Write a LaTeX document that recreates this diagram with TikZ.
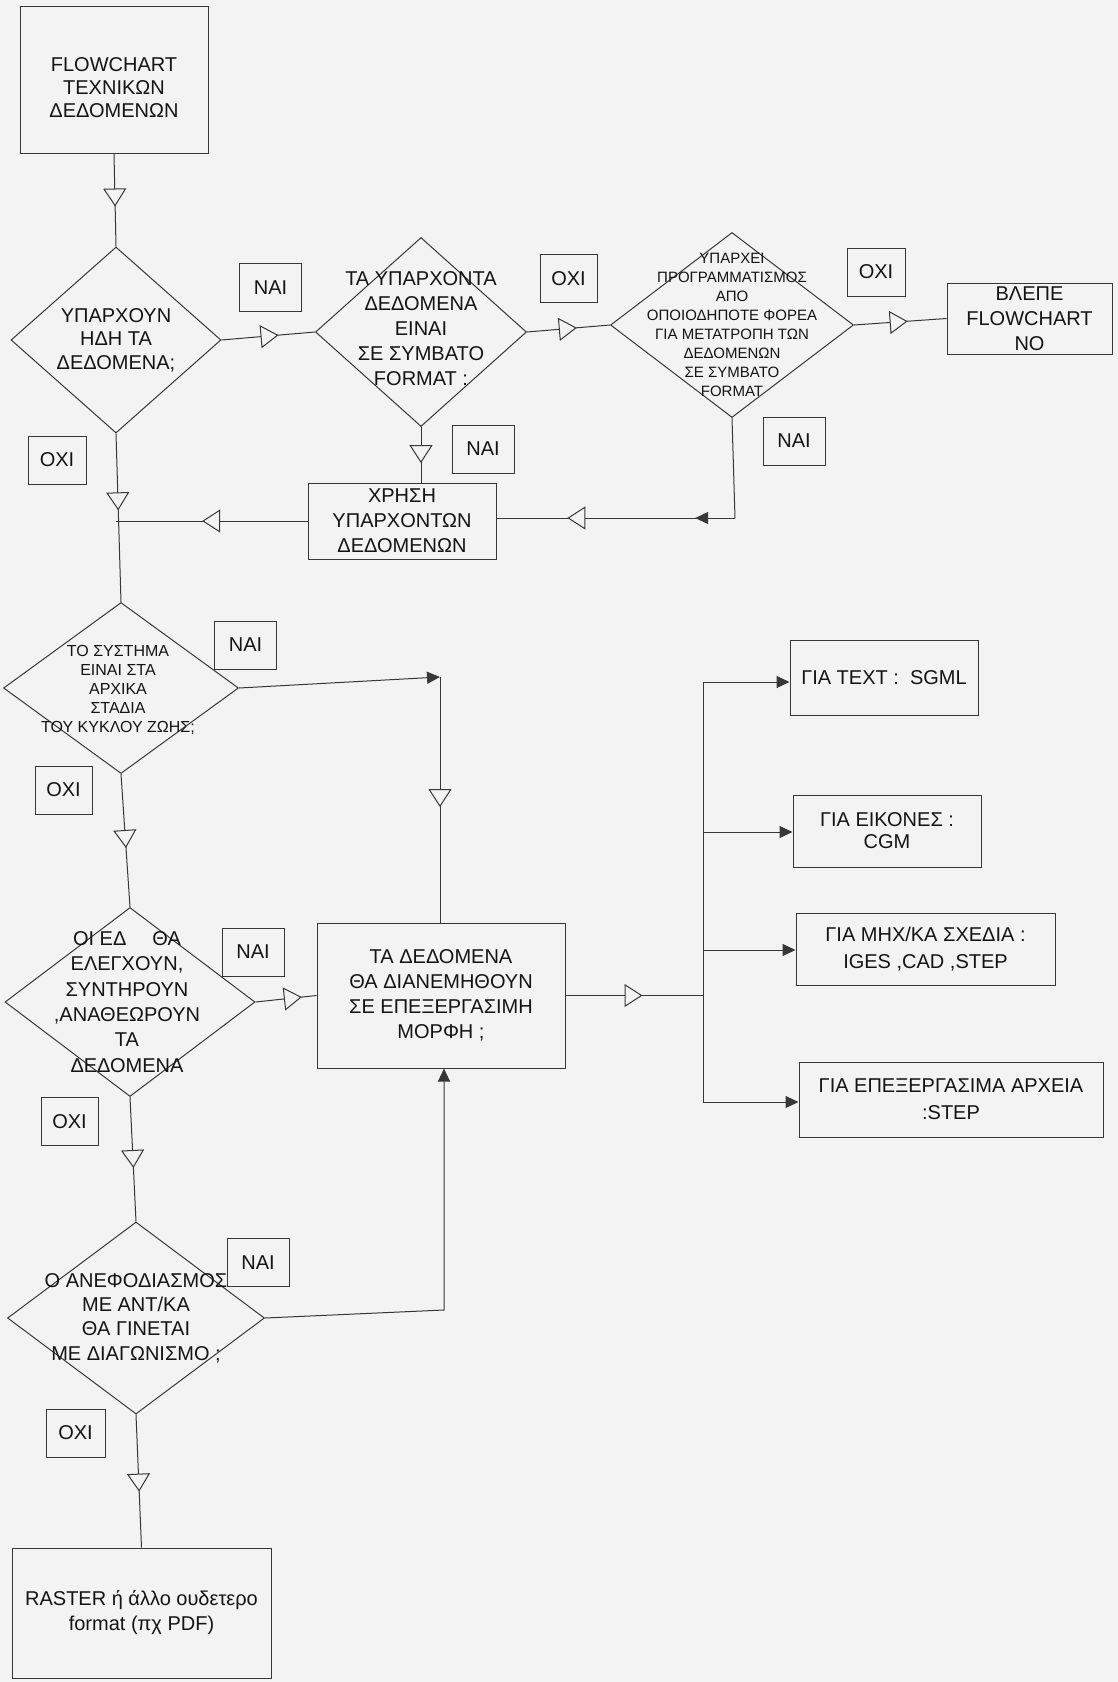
\documentclass[tikz,border=0pt]{standalone}
\usepackage{fontspec}
\setmainfont{Liberation Sans}
\usetikzlibrary{arrows.meta,shapes.geometric,decorations.markings}
\definecolor{bg}{RGB}{243,243,243}
\definecolor{lc}{RGB}{55,55,55}
\definecolor{tc}{RGB}{20,20,20}
\tikzset{
  OT/.tip={Triangle[length=9pt,width=11.5pt,fill=bg]},
  FT/.tip={Triangle[length=6.5pt,width=6pt]},
  ln/.style={draw=lc,line width=0.5pt},
  midtri/.style={postaction={decorate,decoration={markings,mark=at position #1 with {\arrow{OT}}}}},
  rbox/.style 2 args={draw=lc,line width=0.5pt,minimum width=#1,minimum height=#2,inner sep=0pt,align=center,text=tc,font=\fontsize{10}{12.5}\selectfont},
  yn/.style={draw=lc,line width=0.5pt,fill=bg,minimum width=31pt,minimum height=24pt,inner sep=0pt,text=tc,font=\fontsize{10}{12}\selectfont},
  dia/.style 2 args={shape=diamond,draw=lc,line width=0.5pt,minimum width=#1,minimum height=#2,inner sep=0pt},
  dtext/.style={align=center,inner sep=0pt,text=tc,font=\fontsize{10}{12.5}\selectfont},
}
\begin{document}
\begin{tikzpicture}[x=0.5pt,y=-0.5pt]
\fill[bg] (0,0) rectangle (1118,1682);
\useasboundingbox (0,0) rectangle (1118,1682);

% main nodes
\node[rbox={94pt}{73.5pt},label={[dtext,font=\fontsize{10}{11.5}\selectfont,yshift=-4pt]center:{FLOWCHART\\ΤΕΧΝΙΚΩΝ\\ΔΕΔΟΜΕΝΩΝ}}] (start) at (114,79.5) {};

\node[dia={105pt}{93pt},label={[dtext,font=\fontsize{10}{11.75}\selectfont]center:{ΥΠΑΡΧΟΥΝ\\ΗΔΗ ΤΑ\\ΔΕΔΟΜΕΝΑ;}}] (d1) at (116,340) {};

\node[dia={105.5pt}{94.5pt},label={[dtext,yshift=1.5pt]center:{ΤΑ ΥΠΑΡΧΟΝΤΑ\\ΔΕΔΟΜΕΝΑ\\ΕΙΝΑΙ\\ΣΕ ΣΥΜΒΑΤΟ\\FORMAT :}}] (d2) at (421,332) {};

\node[dia={121.5pt}{92.5pt},label={[dtext,font=\fontsize{7.5}{9.5}\selectfont]center:{ΥΠΑΡΧΕΙ\\ΠΡΟΓΡΑΜΜΑΤΙΣΜΟΣ\\ΑΠΟ\\ΟΠΟΙΟΔΗΠΟΤΕ ΦΟΡΕΑ\\ΓΙΑ ΜΕΤΑΤΡΟΠΗ ΤΩΝ\\ΔΕΔΟΜΕΝΩΝ\\ΣΕ ΣΥΜΒΑΤΟ\\FORMAT}}] (d3) at (732,325) {};

\node[rbox={82.5pt}{35.5pt}] (vne) at (1029.5,318.5) {ΒΛΕΠΕ\\FLOWCHART\\NO};

\node[rbox={94pt}{38pt}] (xrisi) at (402,521) {ΧΡΗΣΗ\\ΥΠΑΡΧΟΝΤΩΝ\\ΔΕΔΟΜΕΝΩΝ};

\node[dia={117.5pt}{85.5pt},label={[dtext,font=\fontsize{8}{9.5}\selectfont,xshift=-1.5pt,yshift=-1pt]center:{ΤΟ ΣΥΣΤΗΜΑ\\ΕΙΝΑΙ ΣΤΑ\\ΑΡΧΙΚΑ\\ΣΤΑΔΙΑ\\ΤΟΥ ΚΥΚΛΟΥ ΖΩΗΣ;}}] (d4) at (121,688) {};

\node[rbox={124pt}{72.5pt}] (mb) at (441,995.5) {ΤΑ ΔΕΔΟΜΕΝΑ\\ΘΑ ΔΙΑΝΕΜΗΘΟΥΝ\\ΣΕ ΕΠΕΞΕΡΓΑΣΙΜΗ\\ΜΟΡΦΗ ;};

\node[dia={125pt}{94.5pt},label={[dtext,font=\fontsize{10}{12.7}\selectfont,xshift=-1.5pt]center:{ΟΙ ΕΔ\hspace{1.3em}ΘΑ\\ΕΛΕΓΧΟΥΝ,\\ΣΥΝΤΗΡΟΥΝ\\,ΑΝΑΘΕΩΡΟΥΝ\\ΤΑ\\ΔΕΔΟΜΕΝΑ}}] (d5) at (130,1002) {};

\node[dia={128.5pt}{96pt},label={[dtext,font=\fontsize{10}{12.2}\selectfont]center:{Ο ΑΝΕΦΟΔΙΑΣΜΟΣ\\ΜΕ ΑΝΤ/ΚΑ\\ΘΑ ΓΙΝΕΤΑΙ\\ΜΕ ΔΙΑΓΩΝΙΣΜΟ ;}}] (d6) at (136,1318) {};

\node[rbox={129.5pt}{65pt}] (raster) at (141.5,1613) {RASTER ή άλλο ουδετερο\\format (πχ PDF)};

% right column boxes
\node[rbox={94pt}{37.5pt}] (bA) at (884,677.5) {ΓΙΑ TEXT :\ \ SGML};
\node[rbox={94pt}{36pt},font=\fontsize{10}{11}\selectfont] (bB) at (887,831) {ΓΙΑ ΕΙΚΟΝΕΣ :\\CGM};
\node[rbox={129.5pt}{36pt},font=\fontsize{10}{13.5}\selectfont] (bC) at (925.5,949) {ΓΙΑ ΜΗΧ/ΚΑ ΣΧΕΔΙΑ :\\IGES ,CAD ,STEP};
\node[rbox={152pt}{37.5pt},font=\fontsize{10}{13.5}\selectfont] (bD) at (951,1099.5) {ΓΙΑ ΕΠΕΞΕΡΓΑΣΙΜΑ ΑΡΧΕΙΑ\\:STEP};

% helper coordinates
\coordinate (c3) at (735,518);
\coordinate (c4) at (440,677);
\coordinate (c6) at (444,1310);
\coordinate (b1) at (703,682);
\coordinate (b2) at (703,832);
\coordinate (b3) at (703,950);
\coordinate (b4) at (703,1102);
\coordinate (bj) at (mb.east -| b1);
\coordinate (j1) at (xrisi.west -| d1.south);

% connectors
\draw[ln,midtri=0.57] (start.south) -- (d1.north);
\draw[ln,midtri=0.61] (d1.east) -- (d2.west);
\draw[ln,midtri=0.60] (d2.east) -- (d3.west);
\draw[ln,midtri=0.58] (d3.east) -- (vne.west);
\draw[ln,midtri=0.65] (d2.south) -- (d2.south |- xrisi.north);
\draw[ln] (d3.south) -- (c3);
\draw[ln,postaction={decorate,decoration={markings,mark=at position 0.167 with {\arrow{FT}},mark=at position 0.703 with {\arrow{OT}}}}] (c3) -- (c3 -| xrisi.east);
\draw[ln,midtri=0.55] (xrisi.west) -- (j1);
\draw[ln,midtri=0.456] (d1.south) -- (d4.north);
\draw[ln,-{FT}] (d4.east) -- (c4);
\draw[ln,midtri=0.53] (c4) -- (c4 |- mb.north);
\draw[ln,midtri=0.556] (d4.south) -- (d5.north);
\draw[ln,midtri=0.76] (d5.east) -- (mb.west);
\draw[ln,midtri=0.57] (d5.south) -- (d6.north);
\draw[ln,-{FT}] (d6.east) -- (c6) -- (c6 |- mb.south);
\draw[ln,midtri=0.58] (d6.south) -- (raster.north);
\draw[ln,midtri=0.56] (mb.east) -- (bj);
\draw[ln] (b1) -- (b4);
\draw[ln,-{FT}] (b1) -- (b1 -| bA.west);
\draw[ln,-{FT}] (b2) -- (b2 -| bB.west);
\draw[ln,-{FT}] (b3) -- (b3 -| bC.west);
\draw[ln,-{FT}] (b4) -- (b4 -| bD.west);

% yes / no labels
\node[yn] (nai1) at (270.5,287.5) {ΝΑΙ};
\node[yn] (nai2) at (483,449) {ΝΑΙ};
\node[yn,minimum width=28.5pt] (oxi2) at (568.5,278.5) {ΟΧΙ};
\node[yn,minimum width=29pt] (oxi3) at (876,272) {ΟΧΙ};
\node[yn] (nai3) at (794,441) {ΝΑΙ};
\node[yn,minimum width=29pt] (oxi1) at (57,460) {ΟΧΙ};
\node[yn] (nai4) at (245.5,645) {ΝΑΙ};
\node[yn,minimum width=28.5pt] (oxi4) at (63.5,790) {ΟΧΙ};
\node[yn] (nai5) at (253,952) {ΝΑΙ};
\node[yn,minimum width=28.5pt] (oxi5) at (69.5,1121.5) {ΟΧΙ};
\node[yn] (nai6) at (258,1262.5) {ΝΑΙ};
\node[yn,minimum width=29.5pt] (oxi6) at (75.5,1433) {ΟΧΙ};
\end{tikzpicture}
\end{document}
